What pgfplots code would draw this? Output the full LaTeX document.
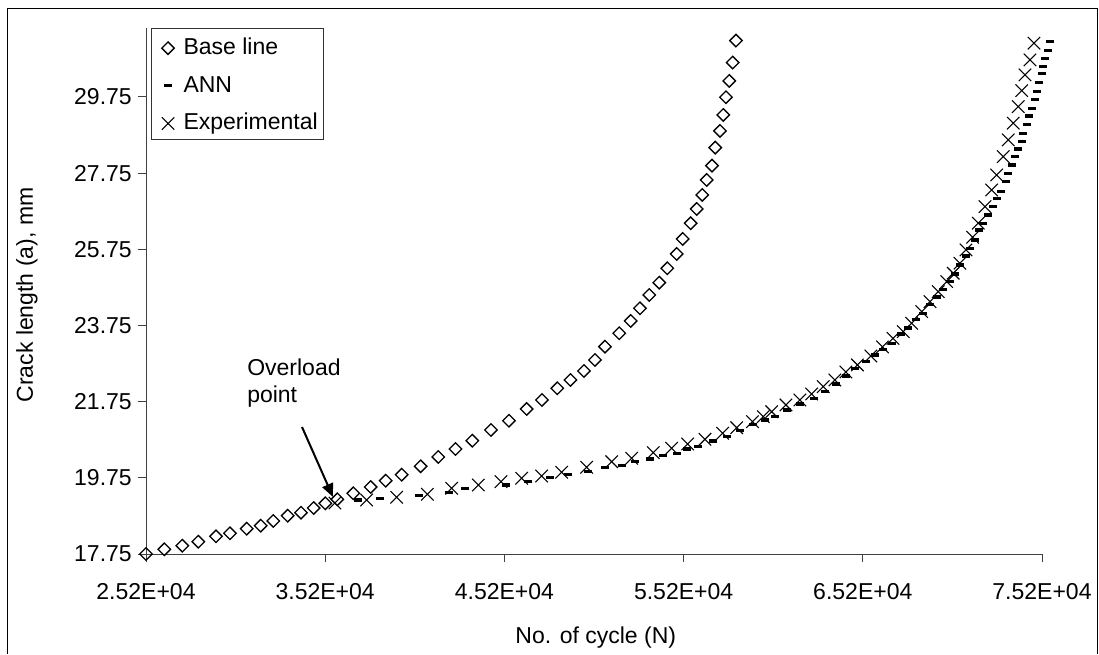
\documentclass[border=0pt]{standalone}
\usepackage{fontspec}
\setmainfont{Liberation Sans}
\usepackage{pgfplots}
\pgfplotsset{compat=1.18}
\usetikzlibrary{arrows.meta}
\begin{document}
\fontsize{17.25}{20.7}\selectfont
\begin{tikzpicture}[font=\fontsize{17.25}{20.7}\selectfont]
\useasboundingbox (0,0) rectangle (824.25pt,490.5pt);
\begin{axis}[
  at={(109.5pt,75pt)}, anchor=south west,
  scale only axis, width=672pt, height=394.5pt,
  xmin=25200, xmax=75200, ymin=17.75, ymax=31.56,
  axis x line*=bottom, axis y line*=left,
  axis line style={black!75, line width=0.75pt, -},
  scaled x ticks=false, scaled y ticks=false,
  xtick={25200,35200,45200,55200,65200,75200},
  xticklabels={2.52E+04,3.52E+04,4.52E+04,5.52E+04,6.52E+04,7.52E+04},
  ytick={17.75,19.75,21.75,23.75,25.75,27.75,29.75},
  yticklabels={17.75,19.75,21.75,23.75,25.75,27.75,29.75},
  tick align=outside, major tick length=6pt,
  tick style={black!75, line width=0.75pt},
  xticklabel style={inner sep=0pt, anchor=north, yshift=-16pt},
  yticklabel style={inner sep=0pt, anchor=east, xshift=-4.5pt},
  clip=false,
  xlabel={No. of cycle (N)},
  ylabel={Crack length (a), mm},
  every axis x label/.style={at={(axis description cs:0.502,-0.1597)}, anchor=center},
  every axis y label/.style={at={(axis description cs:-0.1328,0.4924)}, anchor=center, rotate=90},
  legend image code/.code={\path (-7.5pt,-1.5pt) (11.25pt,-1.5pt); \draw[#1] plot coordinates {(0pt,-1.5pt)};},
  legend cell align=left,
  legend style={at={(axis description cs:0.0056,1)}, anchor=north west,
    draw=black!80, line width=0.75pt, fill=white,
    inner xsep=4.5pt, inner ysep=7pt, row sep=15.75pt,
    font=\fontsize{17.25}{20.7}\selectfont,
    nodes={inner sep=0pt, text height=12.5pt, text depth=0pt}},
]
\addplot[only marks, mark=square, mark size=3.3pt, mark options={rotate=45, draw=black, fill=none, line width=1pt}]
coordinates {
(25200,17.750) (26221,17.873) (27226,17.968) (28118,18.073) (29106,18.215)
(29887,18.294) (30819,18.414) (31600,18.493) (32303,18.617) (33107,18.756)
(33849,18.835) (34558,18.958) (35205,19.081) (35875,19.186) (36767,19.344)
(37738,19.509) (38575,19.675) (39468,19.832) (40528,20.053) (41510,20.297)
(42470,20.507) (43408,20.725) (44451,21.006) (45455,21.250) (46443,21.558)
(47297,21.794) (48151,22.101) (48887,22.319) (49640,22.556) (50254,22.844)
(50812,23.194) (51610,23.546) (52246,23.869) (52765,24.202) (53284,24.551)
(53842,24.874) (54289,25.252) (54813,25.628) (55148,26.022) (55594,26.434)
(55929,26.810) (56241,27.177) (56487,27.571) (56783,27.947) (56967,28.419)
(57229,28.858) (57413,29.278) (57564,29.743) (57748,30.171) (57938,30.652)
(58122,31.229)
};
\addlegendentry{Base line}
\addplot[only marks, mark=-, mark size=3pt, mark options={draw=black, line width=2.4pt}]
coordinates {
(37030,19.168) (38258,19.202) (40434,19.291) (42108,19.365) (43001,19.475)
(45271,19.562) (46533,19.649) (47744,19.754) (48764,19.843) (49880,19.911)
(50812,20.016) (51744,20.069) (52486,20.174) (53323,20.245) (54032,20.331)
(54813,20.394) (55371,20.507) (56018,20.568) (56855,20.717) (57603,20.830)
(58345,20.988) (59087,21.151) (59740,21.269) (60298,21.355) (60951,21.531)
(61693,21.689) (62474,21.839) (63088,22.012) (63702,22.214) (64260,22.424)
(64762,22.621) (65376,22.805) (65878,22.976) (66325,23.120) (66827,23.278)
(67329,23.527) (67720,23.685) (68166,23.908) (68557,24.071) (68947,24.302)
(69338,24.499) (69689,24.701) (70064,24.901) (70342,25.103) (70621,25.339)
(70956,25.575) (71179,25.778) (71458,25.996) (71681,26.258) (71921,26.434)
(72200,26.652) (72479,26.870) (72669,27.091) (72892,27.264) (73188,27.527)
(73316,27.747) (73506,27.965) (73690,28.183) (73874,28.385) (74064,28.577)
(74153,28.798) (74343,29.016) (74488,29.252) (74624,29.454) (74806,29.690)
(74901,29.890) (75047,30.137) (75180,30.355) (75255,30.539) (75366,30.749)
(75535,30.967) (75644,31.203)
};
\addlegendentry{ANN}
\addplot[only marks, mark=x, mark size=6.6pt, mark options={draw=black, line width=0.8pt}]
coordinates {
(35746,19.089) (37515,19.168) (39189,19.239) (40897,19.318) (42258,19.475)
(43742,19.562) (45009,19.649) (46164,19.738) (47280,19.798) (48396,19.895)
(49791,20.027) (51186,20.174) (52302,20.263) (53507,20.410) (54534,20.526)
(55427,20.639) (56392,20.762) (57380,20.920) (58161,21.067) (59043,21.224)
(59645,21.355) (60114,21.487) (60912,21.663) (61693,21.794) (62346,21.952)
(62993,22.143) (63646,22.319) (64260,22.529) (64902,22.713) (65655,22.949)
(66297,23.186) (66883,23.409) (67457,23.588) (67926,23.808) (68484,24.113)
(68947,24.375) (69410,24.638) (69879,24.901) (70247,25.121) (70621,25.384)
(70956,25.733) (71330,26.067) (71642,26.434) (72016,26.870) (72390,27.309)
(72669,27.703) (73037,28.183) (73316,28.622) (73595,29.060) (73874,29.496)
(74064,29.916) (74248,30.329) (74527,30.722) (74751,31.161)
};
\addlegendentry{Experimental}
\node[anchor=base west, inner sep=0pt] at (axis cs:30836,22.424) {Overload};
\node[anchor=base west, inner sep=0pt] at (axis cs:30836,21.715) {point};
\draw[-{Triangle[length=10pt,width=8.5pt]}, line width=1.5pt, black] (axis cs:33905,21.085) -- (axis cs:35635,19.247);
\end{axis}
\draw[black, line width=0.75pt] (5.25pt,0pt) -- (5.25pt,483.75pt) -- (822.75pt,483.75pt) -- (822.75pt,0pt);
\end{tikzpicture}
\end{document}
